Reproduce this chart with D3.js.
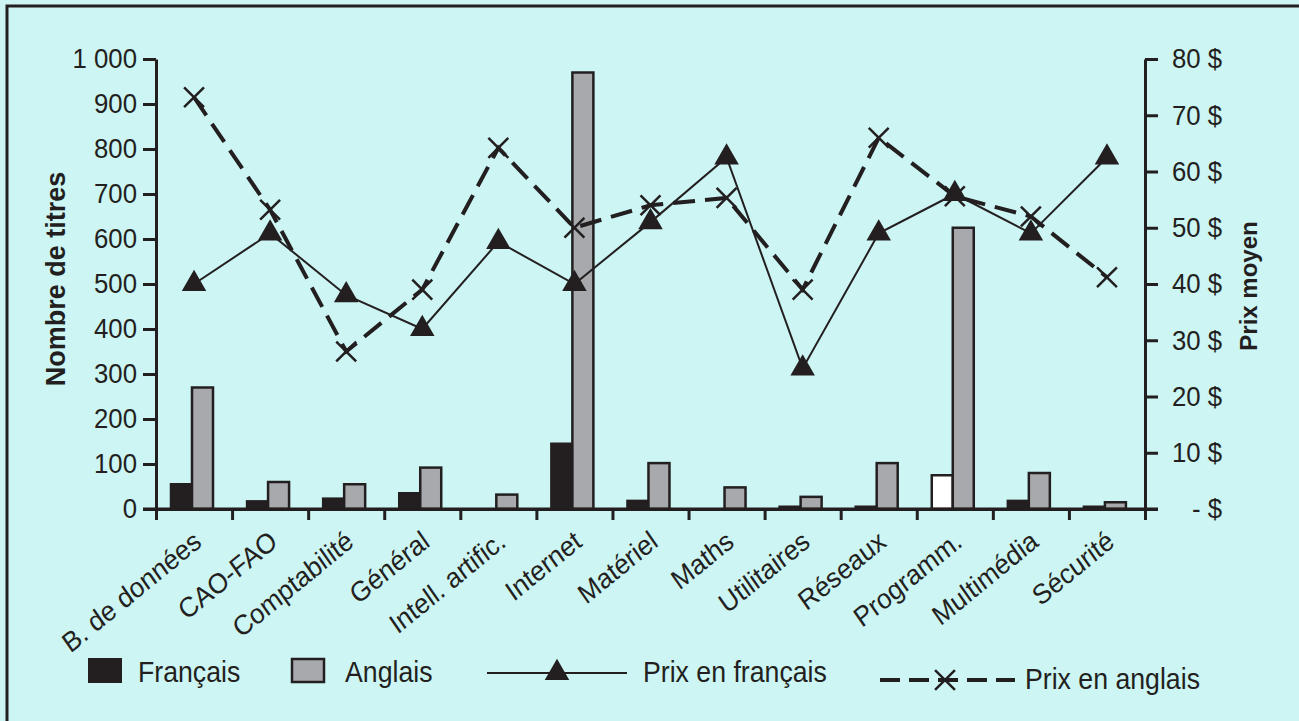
<!DOCTYPE html>
<html>
  <head>
    <meta charset="utf-8">
    <script src="https://d3js.org/d3.v7.min.js"></script>
    <style>
      body { margin: 0; background: #CCF5F3; }
      text { font-family: "Liberation Sans", Arial, sans-serif; fill: #231F20; }
    </style>
  </head>
<body>
  <div id="chart"></div>

  <script type="text/javascript">

      // DATA
      var categories = ["B. de données", "CAO-FAO", "Comptabilité", "Général", "Intell. artific.",
                        "Internet", "Matériel", "Maths", "Utilitaires", "Réseaux", "Programm.",
                        "Multimédia", "Sécurité"];
      var titresFrancais = [55, 17, 23, 35, 0, 145, 18, 0, 5, 5, 75, 18, 5];
      var titresAnglais  = [270, 60, 55, 92, 32, 970, 102, 48, 27, 102, 625, 80, 15];
      var prixFrancais   = [40, 49, 38, 32, 47.5, 40, 51, 62.5, 25, 49, 56, 49, 62.5];
      var prixAnglais    = [73.2, 53.2, 28, 39, 64.2, 50, 54, 55.3, 39, 66, 55.6, 52, 41.2];
      var leftTicks  = [0, 100, 200, 300, 400, 500, 600, 700, 800, 900, 1000];
      var rightTicks = [0, 10, 20, 30, 40, 50, 60, 70, 80];

      var INK = "#231F20", GREY = "#A7A9AC", SQ = 0.92;

      var svg = d3.select("#chart").append("svg")
          .attr("width", 1299)
          .attr("height", 721);

      svg.append("rect").attr("width", 1299).attr("height", 721).attr("fill", "#CCF5F3");
      // outer frame (only top and left are visible)
      svg.append("rect")
          .attr("x", 7).attr("y", 6).attr("width", 1400).attr("height", 900)
          .attr("fill", "none").attr("stroke", INK).attr("stroke-width", 3);

      // squeeze text horizontally like the reference
      function squeeze(sel) {
        sel.each(function () {
          var t = d3.select(this);
          var x = +t.attr("x") || 0, y = +t.attr("y") || 0;
          t.attr("x", 0).attr("y", 0)
           .attr("transform", "translate(" + x + "," + y + ") scale(" + SQ + ",1)");
        });
      }

      // SCALES
      var plotLeft = 156, plotRight = 1145, plotTop = 59, plotBottom = 509;
      var x0 = d3.scaleBand().domain(categories).range([plotLeft, plotRight]);
      var x1 = d3.scaleBand().domain(["fr", "en"]).range([15, 57]);
      var yL = d3.scaleLinear().domain([0, 1000]).range([plotBottom, plotTop]);
      var yR = d3.scaleLinear().domain([0, 80]).range([plotBottom, plotTop]);
      var xLin = d3.scaleLinear().domain([0, categories.length]).range([plotLeft, plotRight]);
      var cx = function (i) { return x0(categories[i]) + x0.bandwidth() / 2; };

      var fmt = d3.formatLocale({ decimal: ",", thousands: " ", grouping: [3], currency: ["", " $"] }).format(",d");

      // BARS
      var bars = svg.append("g");
      categories.forEach(function (c, i) {
        var fr = titresFrancais[i], en = titresAnglais[i];
        if (fr > 0) {
          bars.append("rect")
              .attr("x", x0(c) + x1("fr")).attr("y", yL(fr))
              .attr("width", x1.bandwidth()).attr("height", yL(0) - yL(fr))
              .attr("fill", c === "Programm." ? "#ffffff" : INK)
              .attr("stroke", INK).attr("stroke-width", 2.5);
        }
        bars.append("rect")
            .attr("x", x0(c) + x1("en")).attr("y", yL(en))
            .attr("width", x1.bandwidth()).attr("height", yL(0) - yL(en))
            .attr("fill", GREY).attr("stroke", INK).attr("stroke-width", 2.5);
      });

      // AXES
      var gL = svg.append("g").attr("transform", "translate(" + plotLeft + ",0)")
          .call(d3.axisLeft(yL).tickValues(leftTicks).tickSize(13).tickSizeOuter(0).tickPadding(6)
                .tickFormat(function (d) { return fmt(d); }));
      var gR = svg.append("g").attr("transform", "translate(" + plotRight + ",0)")
          .call(d3.axisRight(yR).tickValues(rightTicks).tickSize(13).tickSizeOuter(0)
                .tickFormat(function (d) { return d === 0 ? "- $" : d + " $"; }));
      var gB = svg.append("g").attr("transform", "translate(0," + plotBottom + ")")
          .call(d3.axisBottom(xLin).tickValues(d3.range(categories.length + 1)).tickSize(11)
                .tickSizeOuter(0).tickFormat(""));
      svg.append("line").attr("x1", plotLeft - 13).attr("x2", plotRight + 13)
          .attr("y1", plotBottom).attr("y2", plotBottom).attr("stroke", INK).attr("stroke-width", 3);

      [gL, gR, gB].forEach(function (g) {
        g.select(".domain").attr("stroke", INK).attr("stroke-width", 3);
        g.selectAll(".tick line").attr("stroke", INK).attr("stroke-width", 3);
        g.selectAll("text").attr("font-size", 28).attr("fill", INK)
          .attr("font-family", "'Liberation Sans', Arial, sans-serif");
      });
      gL.selectAll(".tick text").attr("x", -19).call(squeeze);
      gR.selectAll(".tick text").attr("x", 77).attr("text-anchor", "end").call(squeeze);

      // CATEGORY LABELS
      svg.append("g").selectAll("text")
          .data(categories).enter().append("text")
          .attr("transform", function (d, i) {
            return "translate(" + (cx(i) + 9) + ",545) scale(" + SQ + ",1) rotate(-37)";
          })
          .attr("text-anchor", "end")
          .attr("font-size", 28)
          .text(function (d) { return d; });

      // AXIS TITLES
      svg.append("text")
          .attr("transform", "translate(65,279) rotate(-90)")
          .attr("text-anchor", "middle").attr("font-size", 27).attr("font-weight", "bold")
          .text("Nombre de titres");
      svg.append("text")
          .attr("transform", "translate(1257,286) rotate(-90)")
          .attr("text-anchor", "middle").attr("font-size", 24).attr("font-weight", "bold")
          .text("Prix moyen");

      // LINES
      var line = d3.line().x(function (d, i) { return cx(i); }).y(function (d) { return yR(d); });
      svg.append("path").datum(prixAnglais)
          .attr("d", line).attr("fill", "none").attr("stroke", INK)
          .attr("stroke-width", 4).attr("stroke-dasharray", "22,10");
      svg.append("path").datum(prixFrancais)
          .attr("d", line).attr("fill", "none").attr("stroke", INK).attr("stroke-width", 2);

      var tri = d3.symbol().type(d3.symbolTriangle).size(260);
      var cross = d3.symbol().type(d3.symbolTimes).size(260);

      svg.append("g").selectAll("path")
          .data(prixFrancais).enter().append("path")
          .attr("transform", function (d, i) { return "translate(" + cx(i) + "," + yR(d) + ")"; })
          .attr("d", tri).attr("fill", INK);
      svg.append("g").selectAll("path")
          .data(prixAnglais).enter().append("path")
          .attr("transform", function (d, i) { return "translate(" + cx(i) + "," + yR(d) + ")"; })
          .attr("d", cross).attr("fill", "none").attr("stroke", INK).attr("stroke-width", 2.5);

      // LEGEND
      var lg = svg.append("g");
      lg.append("rect").attr("x", 89).attr("y", 659).attr("width", 32).attr("height", 23)
          .attr("fill", INK).attr("stroke", INK).attr("stroke-width", 2);
      lg.append("rect").attr("x", 292).attr("y", 659).attr("width", 32).attr("height", 23)
          .attr("fill", GREY).attr("stroke", INK).attr("stroke-width", 2.5);
      lg.append("line").attr("x1", 487).attr("x2", 627).attr("y1", 673).attr("y2", 673)
          .attr("stroke", INK).attr("stroke-width", 2);
      lg.append("path").attr("transform", "translate(557,673)").attr("d", tri).attr("fill", INK);
      lg.append("line").attr("x1", 880).attr("x2", 1015).attr("y1", 680).attr("y2", 680)
          .attr("stroke", INK).attr("stroke-width", 4).attr("stroke-dasharray", "20,9");
      lg.append("path").attr("transform", "translate(945,680)").attr("d", cross)
          .attr("fill", "none").attr("stroke", INK).attr("stroke-width", 2.5);

      var legendText = [["Français", 138, 682], ["Anglais", 345, 682],
                        ["Prix en français", 643, 682], ["Prix en anglais", 1025, 689]];
      lg.selectAll("text.leg").data(legendText).enter().append("text")
          .attr("class", "leg")
          .attr("x", function (d) { return d[1]; }).attr("y", function (d) { return d[2]; })
          .attr("font-size", 29)
          .text(function (d) { return d[0]; })
          .call(squeeze);

  </script>
</body>
</html>
